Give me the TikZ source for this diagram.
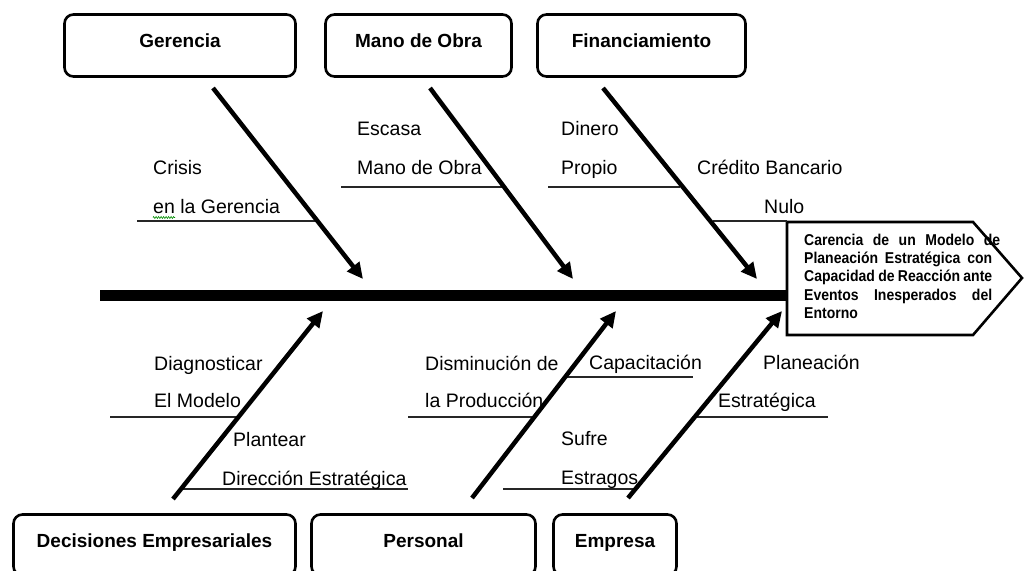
\documentclass[tikz,border=0pt]{standalone}
\usepackage{fontspec}
\setmainfont{Liberation Sans}
\usetikzlibrary{arrows.meta,decorations.pathmorphing}
\begin{document}
\begin{tikzpicture}[x=1pt,y=-1pt,
  cause/.style={draw, line width=2.6pt, rounded corners=9pt, inner sep=0pt,
    font=\fontsize{19}{22}\selectfont\bfseries, text height=9pt, text depth=5pt},
  lbl/.style={anchor=base west, inner sep=0pt, font=\fontsize{19.5}{23}\selectfont},
  bone/.style={line width=4.5pt, -{Triangle[length=16pt,width=15pt]}},
  sub/.style={line width=1.1pt, black!85},
  spine/.style={line width=11pt},
  headbox/.style={line width=2.6pt, fill=white}
]
\useasboundingbox (0,0) rectangle (1024,570);
\clip (0,0) rectangle (1024,570);

% cause boxes
\node[cause, minimum width=231pt, minimum height=62pt] (ger) at (180,45.5) {Gerencia};
\node[cause, minimum width=186pt, minimum height=62pt] (mano) at (418.5,45.5) {Mano de Obra};
\node[cause, minimum width=208pt, minimum height=62pt] (fin) at (641.5,45.5) {Financiamiento};
\node[cause, minimum width=282pt, minimum height=61pt] (dec) at (154.5,545) {Decisiones Empresariales};
\node[cause, minimum width=224pt, minimum height=61pt] (per) at (423.5,545) {Personal};
\node[cause, minimum width=123pt, minimum height=61pt] (emp) at (615,545) {Empresa};

% bone end points
\coordinate (gA) at (213,88);  \coordinate (gB) at (363,279);
\coordinate (mA) at (430,88);  \coordinate (mB) at (573,279);
\coordinate (fA) at (603,88);  \coordinate (fB) at (757,279);
\coordinate (dA) at (173,499); \coordinate (dB) at (323,311);
\coordinate (pA) at (472,498); \coordinate (pB) at (616,311);
\coordinate (eA) at (628,498); \coordinate (eB) at (782,311);
\coordinate (tail) at (100,295); \coordinate (headW) at (787,295);

% spine
\draw[spine] (tail) -- (headW);

% head
\draw[headbox] (787,222) -- (973,222) -- (1022,278) -- (973,335) -- (787,335) -- cycle;
\node[anchor=base west, inner sep=0pt] (head) at (804,245) {\scalebox{1}[1.12]{\parbox[t]{200pt}{\fontsize{14}{16.5}\selectfont\bfseries
\makebox[196pt][s]{Carencia de un Modelo de}\\
\makebox[188pt][s]{Planeación Estratégica con}\\
\makebox[188pt][s]{Capacidad de Reacción ante}\\
\makebox[188pt][s]{Eventos Inesperados del}\\
Entorno}}};

% sub lines
\draw[sub] (137,221) -- (315,221);
\draw[sub] (341,187) -- (503,187);
\draw[sub] (548,187) -- (680,187);
\draw[sub] (713,221) -- (787,221);
\draw[sub] (110,417) -- (238,417);
\draw[sub] (183,489) -- (408,489);
\draw[sub] (408,417) -- (534,417);
\draw[sub] (566,377) -- (693,377);
\draw[sub] (697,417) -- (828,417);
\draw[sub] (503,489) -- (634,489);

% bones
\draw[bone] (gA) -- (gB);
\draw[bone] (mA) -- (mB);
\draw[bone] (fA) -- (fB);
\draw[bone] (dA) -- (dB);
\draw[bone] (pA) -- (pB);
\draw[bone] (eA) -- (eB);

% labels
\node[lbl] (t1) at (153,174) {Crisis};
\node[lbl] (t2) at (153,213) {en la Gerencia};
\node[lbl] (t3) at (357,135) {Escasa};
\node[lbl] (t4) at (357,174) {Mano de Obra};
\node[lbl] (t5) at (561,135) {Dinero};
\node[lbl] (t6) at (561,174) {Propio};
\node[lbl] (t7) at (697,174) {Crédito Bancario};
\node[lbl] (t8) at (764,213) {Nulo};
\node[lbl] (b1) at (154,370) {Diagnosticar};
\node[lbl] (b2) at (154,407) {El Modelo};
\node[lbl] (b3) at (233,446) {Plantear};
\node[lbl] (b4) at (222,485) {Dirección Estratégica};
\node[lbl] (b5) at (425,370) {Disminución de};
\node[lbl] (b6) at (425,407) {la Producción};
\node[lbl] (b7) at (589,369) {Capacitación};
\node[lbl] (b8) at (763,369) {Planeación};
\node[lbl] (b9) at (718,407) {Estratégica};
\node[lbl] (b10) at (561,445) {Sufre};
\node[lbl] (b11) at (561,484) {Estragos};

% spell-check squiggle under "en"
\draw[green!55!black, line width=0.6pt, decorate,
  decoration={zigzag, amplitude=1pt, segment length=2.5pt}] (153,217.5) -- (175,217.5);
\end{tikzpicture}
\end{document}
